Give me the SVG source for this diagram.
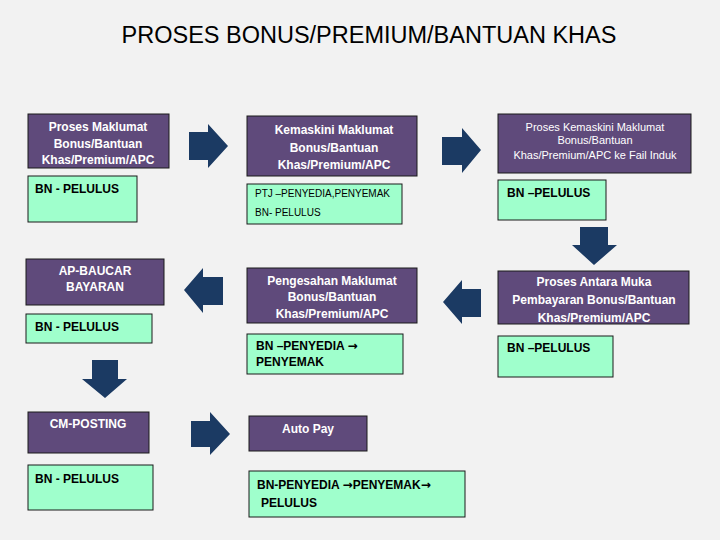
<svg xmlns="http://www.w3.org/2000/svg" width="720" height="540" viewBox="0 0 720 540">
<style>
.bg{fill:#f2f2f2}
.p{fill:#5f4a7b;stroke:#1a1a1a;stroke-width:1}
.g{fill:#9fffcc;stroke:#1a1a1a;stroke-width:1}
.pt{font-family:"Liberation Sans",Arial,sans-serif;font-weight:bold;font-size:12px;fill:#ffffff;text-anchor:middle}
.pts{font-family:"Liberation Sans",Arial,sans-serif;font-size:11px;fill:#ffffff;text-anchor:middle}
.gt{font-family:"Liberation Sans",Arial,sans-serif;font-weight:bold;font-size:12px;fill:#000000}
.gts{font-family:"Liberation Sans",Arial,sans-serif;font-size:10px;fill:#000000}
.arr{font-family:"DejaVu Sans",sans-serif;font-weight:bold}
.ar{fill:#1b3a63}
.title{font-family:"Liberation Sans",Arial,sans-serif;font-size:23.5px;fill:#000000;text-anchor:middle}
</style>
<rect class="bg" x="0" y="0" width="720" height="540"/>
<text class="title" x="369" y="43">PROSES BONUS/PREMIUM/BANTUAN KHAS</text>

<g id="n1">
<rect class="p" x="28" y="114" width="141" height="54"/>
<text class="pt" x="98" y="131">Proses Maklumat</text>
<text class="pt" x="98" y="148">Bonus/Bantuan</text>
<text class="pt" x="98" y="164">Khas/Premium/APC</text>
<rect class="g" x="28" y="176" width="109" height="46"/>
<text class="gt" x="35" y="193">BN - PELULUS</text>
</g>

<g id="n2">
<rect class="p" x="247" y="116" width="170" height="60"/>
<text class="pt" x="334" y="134">Kemaskini Maklumat</text>
<text class="pt" x="334" y="152">Bonus/Bantuan</text>
<text class="pt" x="334" y="169">Khas/Premium/APC</text>
<rect class="g" x="247" y="184" width="155" height="40"/>
<text class="gts" x="255" y="197">PTJ –PENYEDIA,PENYEMAK</text>
<text class="gts" x="255" y="216">BN- PELULUS</text>
</g>

<g id="n3">
<rect class="p" x="498" y="114" width="193" height="59"/>
<text class="pts" x="595" y="131">Proses Kemaskini Maklumat</text>
<text class="pts" x="595" y="144">Bonus/Bantuan</text>
<text class="pts" x="595" y="159">Khas/Premium/APC ke Fail Induk</text>
<rect class="g" x="498" y="180" width="108" height="40"/>
<text class="gt" x="507" y="197">BN –PELULUS</text>
</g>

<g id="n6">
<rect class="p" x="498" y="271" width="191" height="53"/>
<text class="pt" x="594" y="286">Proses Antara Muka</text>
<text class="pt" x="594" y="304">Pembayaran Bonus/Bantuan</text>
<text class="pt" x="594" y="322">Khas/Premium/APC</text>
<rect class="g" x="498" y="336" width="115" height="41"/>
<text class="gt" x="507" y="352">BN –PELULUS</text>
</g>

<g id="n5">
<rect class="p" x="247" y="268" width="170" height="55"/>
<text class="pt" x="332" y="285">Pengesahan Maklumat</text>
<text class="pt" x="332" y="301">Bonus/Bantuan</text>
<text class="pt" x="332" y="318">Khas/Premium/APC</text>
<rect class="g" x="247" y="334" width="156" height="40"/>
<text class="gt" x="256" y="350">BN –PENYEDIA <tspan class="arr">→</tspan></text>
<text class="gt" x="256" y="366">PENYEMAK</text>
</g>

<g id="n4">
<rect class="p" x="26" y="259" width="138" height="46"/>
<text class="pt" x="95" y="275">AP-BAUCAR</text>
<text class="pt" x="95" y="291">BAYARAN</text>
<rect class="g" x="26" y="314" width="126" height="29"/>
<text class="gt" x="35" y="331">BN - PELULUS</text>
</g>

<g id="n7">
<rect class="p" x="28" y="412" width="121" height="41"/>
<text class="pt" x="88" y="428">CM-POSTING</text>
<rect class="g" x="28" y="465" width="125" height="45"/>
<text class="gt" x="35" y="483">BN - PELULUS</text>
</g>

<g id="n8">
<rect class="p" x="249" y="416" width="118" height="35"/>
<text class="pt" x="308" y="433">Auto Pay</text>
<rect class="g" x="249" y="471" width="216" height="46"/>
<text class="gt" x="257" y="489">BN-PENYEDIA <tspan class="arr">→</tspan>PENYEMAK<tspan class="arr">→</tspan></text>
<text class="gt" x="261" y="507">PELULUS</text>
</g>

<g id="connectors">
<polygon class="ar" points="189,132 208,132 208,124 228,146 208,168 208,160 189,160"/>
<polygon class="ar" points="442,137 462,137 462,128 481,150 462,173 462,165 442,165"/>
<polygon class="ar" points="580,227 608,227 608,245 617,245 594,265 572,245 580,245"/>
<polygon class="ar" points="481,289 462,289 462,280 443,302 462,324 462,317 481,317"/>
<polygon class="ar" points="223,277 203,277 203,268 184,290 203,313 203,305 223,305"/>
<polygon class="ar" points="92,360 118,360 118,379 127,379 105,398 82,379 92,379"/>
<polygon class="ar" points="191,421 210,421 210,412 230,434 210,455 210,447 191,447"/>
</g>
</svg>
